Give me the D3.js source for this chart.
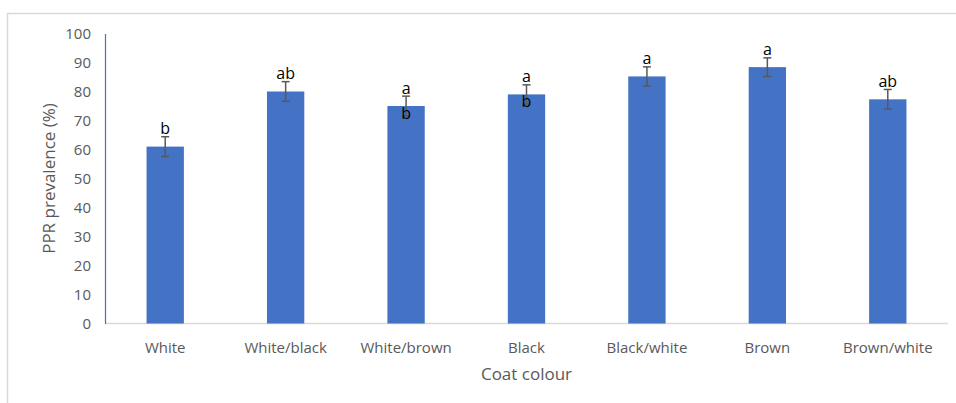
<!DOCTYPE html>
<html>
<head>
<meta charset="utf-8">
<script src="https://cdn.jsdelivr.net/npm/d3@7"></script>
<style>
  body { margin: 0; background: #fff; }
  svg text { font-family: "Open Sans", "Liberation Sans", sans-serif; }
</style>
</head>
<body>
<script>
// coat colour categories and PPR prevalence (%)
var categories = ["White", "White/black", "White/brown", "Black", "Black/white", "Brown", "Brown/white"];
var prevalence = [61.0, 80.0, 75.0, 79.0, 85.2, 88.4, 77.3];
var errors = [3.4, 3.4, 3.4, 3.3, 3.3, 3.2, 3.4];
var letters = ["b", "ab", "a\nb", "a\nb", "a", "a", "ab"];
var yTicks = [0, 10, 20, 30, 40, 50, 60, 70, 80, 90, 100];

var width = 956, height = 403;
var margin = {top: 33.5, right: 8, bottom: 79.5, left: 105};

var svg = d3.select("body").append("svg")
    .attr("width", width)
    .attr("height", height);

// chart area border (cropped at right/bottom)
svg.append("rect")
    .attr("x", 7.5).attr("y", 13.5)
    .attr("width", 1000).attr("height", 500)
    .attr("fill", "none")
    .attr("stroke", "#d9d9d9")
    .attr("stroke-width", 1.5);

var xScale = d3.scaleBand()
    .domain(categories)
    .range([margin.left, width - margin.right])
    .paddingInner(0.69)
    .paddingOuter(0.345);

var yScale = d3.scaleLinear()
    .domain([0, 100])
    .range([height - margin.bottom, margin.top]);

// x axis line
svg.append("line")
    .attr("x1", margin.left).attr("x2", width - margin.right)
    .attr("y1", yScale(0)).attr("y2", yScale(0))
    .attr("stroke", "#d9d9d9")
    .attr("stroke-width", 1.5);

// y axis
var yAxis = svg.append("g")
    .attr("transform", "translate(" + margin.left + ",0)")
    .call(d3.axisLeft(yScale).tickValues(yTicks).tickSize(0).tickPadding(14));
yAxis.select(".domain").attr("stroke", "#4472c4").attr("stroke-width", 1.2);
yAxis.selectAll("text").attr("font-size", 15).attr("fill", "#595959")
    .attr("font-family", "Open Sans");

// x axis labels
var xAxis = svg.append("g")
    .attr("transform", "translate(0," + yScale(0) + ")")
    .call(d3.axisBottom(xScale).tickSize(0).tickPadding(19));
xAxis.select(".domain").remove();
xAxis.selectAll("text").attr("font-size", 15).attr("fill", "#595959")
    .attr("font-family", "Open Sans");

// bars
svg.selectAll(".bar")
    .data(prevalence)
  .enter().append("rect")
    .attr("class", "bar")
    .attr("x", function(d, i) { return xScale(categories[i]); })
    .attr("y", function(d) { return yScale(d); })
    .attr("width", xScale.bandwidth())
    .attr("height", function(d) { return yScale(0) - yScale(d); })
    .attr("fill", "#4472c4");

// error bars
var eb = svg.selectAll(".err")
    .data(prevalence)
  .enter().append("g")
    .attr("class", "err")
    .attr("stroke", "#595959")
    .attr("stroke-width", 1.5);
eb.each(function(d, i) {
  var g = d3.select(this);
  var cx = xScale(categories[i]) + xScale.bandwidth() / 2;
  var y1 = yScale(d + errors[i]), y2 = yScale(d - errors[i]);
  g.append("line").attr("x1", cx).attr("x2", cx).attr("y1", y1).attr("y2", y2);
  g.append("line").attr("x1", cx - 4).attr("x2", cx + 4).attr("y1", y1).attr("y2", y1);
  g.append("line").attr("x1", cx - 4).attr("x2", cx + 4).attr("y1", y2).attr("y2", y2);
});

// significance letters
svg.selectAll(".sig")
    .data(letters)
  .enter().append("text")
    .attr("class", "sig")
    .attr("text-anchor", "middle")
    .attr("font-size", 16)
    .attr("fill", "#000")
    .each(function(d, i) {
      var cx = xScale(categories[i]) + xScale.bandwidth() / 2;
      var yb = yScale(prevalence[i] + errors[i]) - 2.5;
      d3.select(this).selectAll("tspan")
        .data(d.split("\n"))
        .enter().append("tspan")
        .attr("x", cx)
        .attr("y", function(t, j) { return yb + j * 25; })
        .text(function(t) { return t; });
    });

// axis titles
svg.append("text")
    .attr("transform", "translate(55," + (yScale(50)) + ") rotate(-90)")
    .attr("text-anchor", "middle")
    .attr("font-size", 17)
    .attr("fill", "#595959")
    .text("PPR prevalence (%)");

svg.append("text")
    .attr("x", (margin.left + width - margin.right) / 2)
    .attr("y", 380)
    .attr("text-anchor", "middle")
    .attr("font-size", 17)
    .attr("fill", "#595959")
    .text("Coat colour");
</script>
</body>
</html>
